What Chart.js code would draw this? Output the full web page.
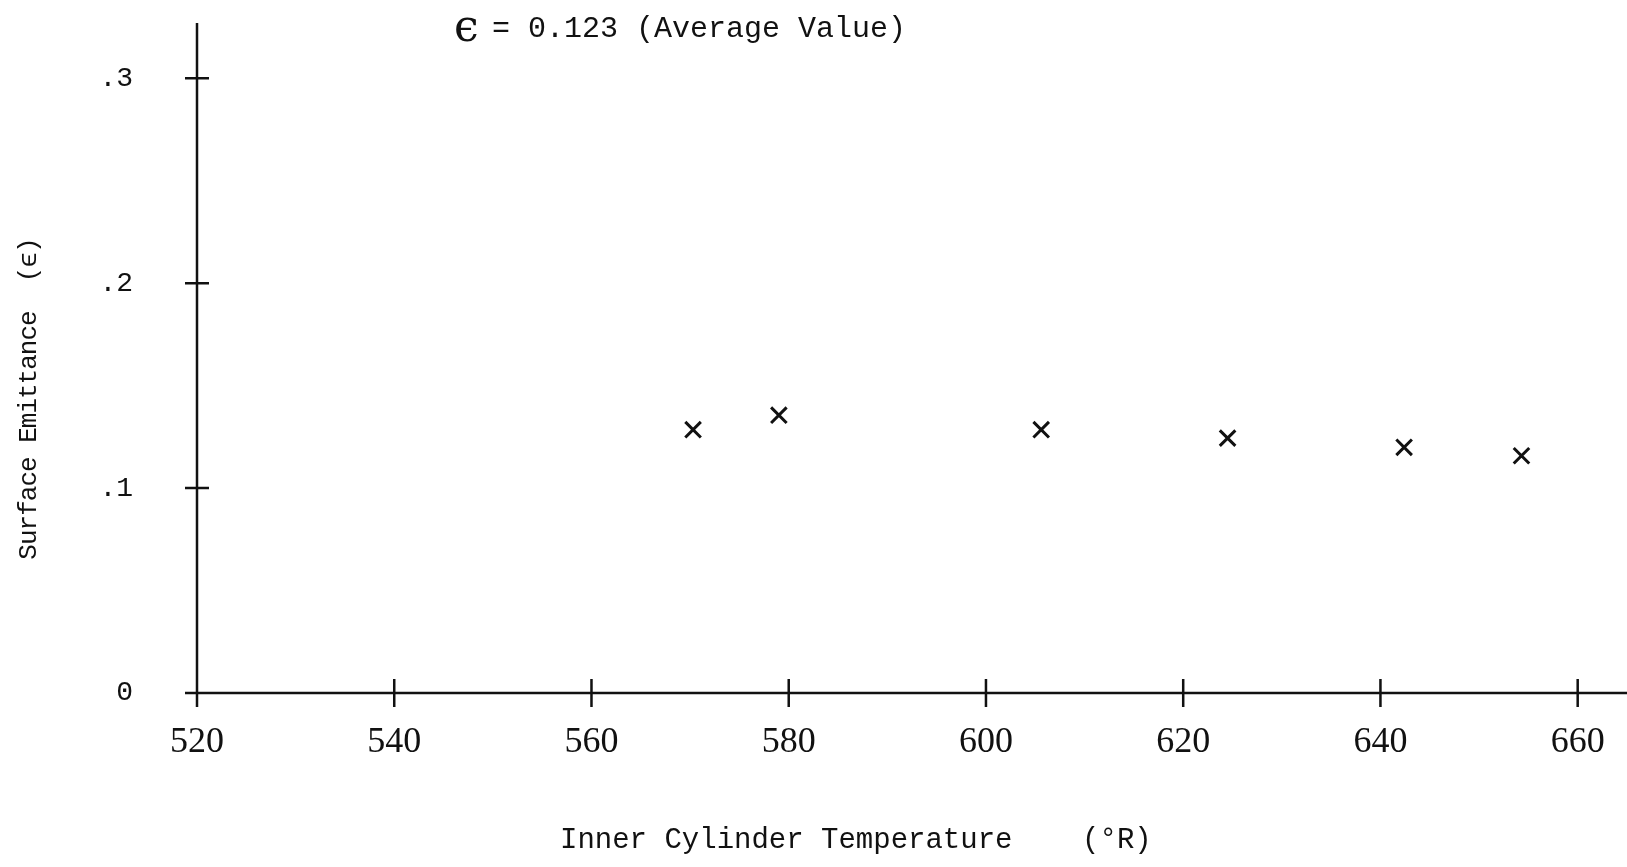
<!DOCTYPE html>
<html>
<head>
<meta charset="utf-8">
<script src="https://cdn.jsdelivr.net/npm/chart.js@4.4.1/dist/chart.umd.min.js"></script>
<style>
  html, body { margin: 0; padding: 0; background: #fff; overflow: hidden; }
  #wrap { width: 1627px; height: 867px; }
  canvas { display: block; }
</style>
</head>
<body>
<div id="wrap"><canvas id="emittance-chart" width="1627" height="867"></canvas></div>
<script>
// data
const temperatures = [570.3, 579.0, 605.6, 624.5, 642.4, 654.3];
const emittance = [0.1285, 0.1356, 0.1285, 0.1244, 0.1199, 0.1158];
const xTicks = [520, 540, 560, 580, 600, 620, 640, 660];
const yTicks = [0, 0.1, 0.2, 0.3];
const yTickLabels = ['0', '.1', '.2', '.3'];
const averageSymbol = 'ϵ';
const averageText = '= 0.123 (Average Value)';

const ink = '#111';
const mono = '"Liberation Mono", "DejaVu Sans Mono", monospace';

// axes with ticks crossing the line, plus the loose text labels
const axesPlugin = {
  id: 'crossAxes',
  afterDraw(chart) {
    const ctx = chart.ctx;
    const x = chart.scales.x;
    const y = chart.scales.y;
    const area = chart.chartArea;
    ctx.save();
    ctx.strokeStyle = ink;
    ctx.lineWidth = 2.5;
    ctx.beginPath();
    ctx.moveTo(area.left - 10, area.bottom);
    ctx.lineTo(area.right, area.bottom);
    ctx.moveTo(area.left, area.top);
    ctx.lineTo(area.left, area.bottom + 12);
    xTicks.forEach(v => {
      const px = x.getPixelForValue(v);
      ctx.moveTo(px, area.bottom - 14);
      ctx.lineTo(px, area.bottom + 14);
    });
    yTicks.forEach(v => {
      const py = y.getPixelForValue(v);
      ctx.moveTo(area.left - 12, py);
      ctx.lineTo(area.left + 12, py);
    });
    ctx.stroke();

    ctx.fillStyle = ink;
    ctx.textBaseline = 'middle';
    ctx.textAlign = 'left';
    ctx.font = '44px "DejaVu Serif", serif';
    ctx.fillText(averageSymbol, 454, 30);
    ctx.font = '30px ' + mono;
    ctx.fillText(averageText, 492, 29);
    ctx.font = '29px ' + mono;
    ctx.fillText('Inner Cylinder Temperature    (°R)', 560, 840);

    ctx.translate(29, 399);
    ctx.rotate(-Math.PI / 2);
    ctx.textAlign = 'center';
    ctx.font = '26px ' + mono;
    ctx.letterSpacing = '-1px';
    ctx.fillText('Surface Emittance  (ϵ)', 0, 0);
    ctx.restore();
  }
};

new Chart(document.getElementById('emittance-chart').getContext('2d'), {
  type: 'scatter',
  data: {
    datasets: [{
      data: temperatures.map((t, i) => ({ x: t, y: emittance[i] })),
      pointStyle: 'crossRot',
      pointRadius: 11,
      pointBorderWidth: 3,
      borderColor: ink,
      backgroundColor: ink
    }]
  },
  options: {
    responsive: false,
    devicePixelRatio: 1,
    animation: false,
    layout: { autoPadding: false, padding: { top: 23, left: 0, right: 0, bottom: 0 } },
    plugins: {
      legend: { display: false },
      tooltip: { enabled: false }
    },
    scales: {
      x: {
        type: 'linear',
        min: 520,
        max: 665,
        afterBuildTicks: scale => { scale.ticks = xTicks.map(v => ({ value: v })); },
        afterFit: scale => {
          scale.height = 174;
          scale.paddingLeft = 0;
          scale.paddingRight = 0;
        },
        grid: { display: false, drawTicks: false },
        border: { display: false },
        ticks: {
          color: ink,
          padding: 28,
          maxRotation: 0,
          autoSkip: false,
          font: { family: '"Liberation Serif", serif', size: 36 },
          callback: v => String(v)
        }
      },
      y: {
        type: 'linear',
        min: 0,
        max: 0.327,
        afterBuildTicks: scale => { scale.ticks = yTicks.map(v => ({ value: v })); },
        afterFit: scale => {
          scale.width = 197;
          scale.paddingTop = 0;
          scale.paddingBottom = 0;
        },
        grid: { display: false, drawTicks: false },
        border: { display: false },
        ticks: {
          color: ink,
          padding: 64,
          autoSkip: false,
          font: { family: mono, size: 28 },
          callback: v => yTickLabels[yTicks.indexOf(v)] ?? ''
        }
      }
    }
  },
  plugins: [axesPlugin]
});
</script>
</body>
</html>
